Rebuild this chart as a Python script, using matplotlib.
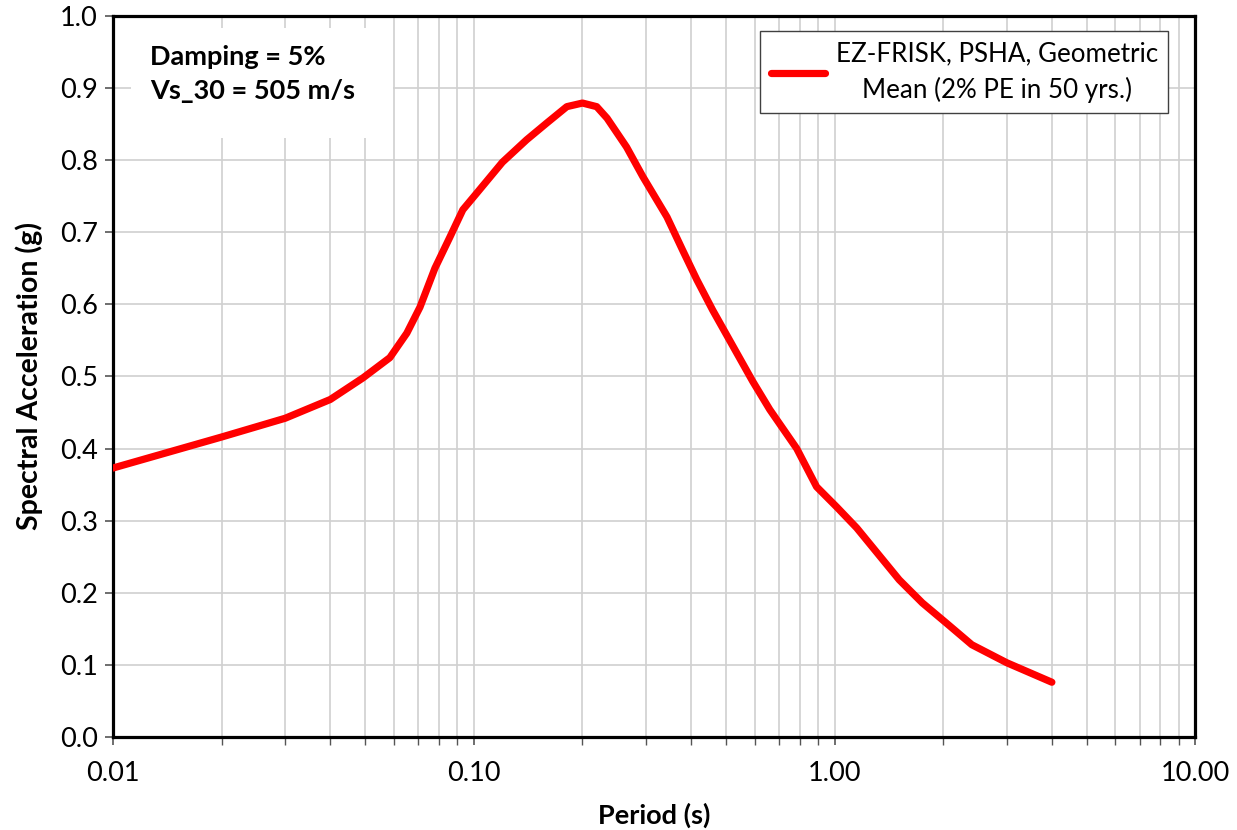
import matplotlib
matplotlib.use("Agg")
import matplotlib.pyplot as plt
from matplotlib.patches import Rectangle
from matplotlib.ticker import FixedLocator, FixedFormatter, LogLocator, NullFormatter

plt.rcParams['font.family'] = ['Lato', 'DejaVu Sans']

period = [0.01, 0.02, 0.03, 0.04, 0.0493, 0.0585, 0.0652, 0.0709, 0.078, 0.0858,
          0.0932, 0.1026, 0.120, 0.140, 0.159, 0.181, 0.20, 0.219, 0.234, 0.265,
          0.294, 0.343, 0.379, 0.415, 0.459, 0.593, 0.661, 0.785, 0.891, 1.013,
          1.151, 1.51, 1.75, 2.04, 2.4, 3.0, 4.0]
sa = [0.373, 0.416, 0.442, 0.468, 0.498, 0.526, 0.560, 0.596, 0.650, 0.693,
      0.731, 0.756, 0.797, 0.828, 0.851, 0.874, 0.879, 0.874, 0.858, 0.818,
      0.777, 0.721, 0.675, 0.634, 0.592, 0.493, 0.454, 0.400, 0.347, 0.319,
      0.290, 0.218, 0.186, 0.158, 0.128, 0.103, 0.076]

xticks = [0.01, 0.1, 1.0, 10.0]
xticklabels = ["0.01", "0.10", "1.00", "10.00"]
yticks = [0.0, 0.1, 0.2, 0.3, 0.4, 0.5, 0.6, 0.7, 0.8, 0.9, 1.0]
yticklabels = ["0.0", "0.1", "0.2", "0.3", "0.4", "0.5", "0.6", "0.7", "0.8", "0.9", "1.0"]
series_label = "EZ-FRISK, PSHA, Geometric\nMean (2% PE in 50 yrs.)"
note = "Damping = 5%\nVs_30 = 505 m/s"

fig = plt.figure(figsize=(12.37, 8.30), dpi=100)
ax = fig.add_axes([0.0914, 0.112, 0.875, 0.869])

ax.plot(period, sa, color="#ff0000", lw=5.2, solid_capstyle="round",
        solid_joinstyle="round", label=series_label, zorder=3)

ax.set_xscale("log")
ax.set_xlim(0.01, 10)
ax.set_ylim(0, 1.0)
ax.xaxis.set_major_locator(FixedLocator(xticks))
ax.xaxis.set_major_formatter(FixedFormatter(xticklabels))
ax.xaxis.set_minor_locator(LogLocator(base=10, subs=range(2, 10)))
ax.xaxis.set_minor_formatter(NullFormatter())
ax.set_yticks(yticks)
ax.set_yticklabels(yticklabels)

ax.grid(True, which="major", color="#d0d0d0", lw=1.2, zorder=0)
ax.grid(True, which="minor", axis="x", color="#d0d0d0", lw=1.2, zorder=0)
ax.set_axisbelow(True)

for s in ax.spines.values():
    s.set_linewidth(2.3)
    s.set_color("black")

ax.tick_params(axis="both", which="major", direction="out", length=6, width=1.2,
               color="#555555", labelsize=19.5, pad=5)
ax.tick_params(axis="x", which="minor", direction="out", length=6, width=1.0, color="#555555")
ax.tick_params(axis="x", which="major", pad=11)

ax.set_xlabel("Period (s)", fontsize=19.5, fontweight="bold", labelpad=12)
ax.set_ylabel("Spectral Acceleration (g)", fontsize=20.5, fontweight="bold", labelpad=12)

# white text box behind the note
ax.add_patch(Rectangle((0.0166, 0.831), 0.242, 0.1526, transform=ax.transAxes,
                       facecolor="white", edgecolor="none", zorder=2))
ax.text(0.034, 0.96, note, transform=ax.transAxes, fontsize=19.5, fontweight="bold",
        va="top", ha="left", linespacing=1.5, zorder=4)

leg = ax.legend(loc="upper right", bbox_to_anchor=(0.975, 0.979), borderaxespad=0,
                fontsize=18.7, frameon=True, fancybox=False, edgecolor="#404040",
                framealpha=1, handlelength=2.1, handletextpad=0.4, borderpad=0.4)
leg.get_frame().set_linewidth(1.0)
for t in leg.get_texts():
    t.set_multialignment("center")
    t.set_linespacing(1.5)

fig.savefig("out.png", dpi=100, facecolor="white")
